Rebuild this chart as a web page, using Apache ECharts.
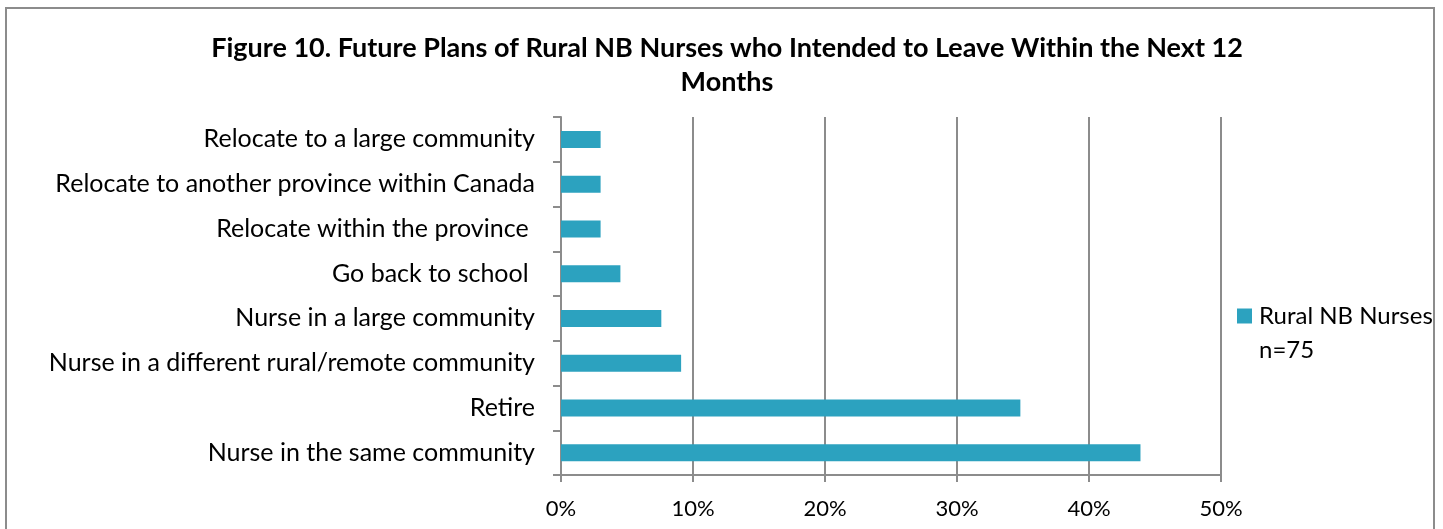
<!DOCTYPE html>
<html lang="en">
	<head>
		<meta charset="UTF-8">
		<title>Future Plans of Rural NB Nurses</title>
		<script src="https://cdn.jsdelivr.net/npm/echarts@6/dist/echarts.min.js"></script>
		<style>
			html, body {
				margin: 0;
				padding: 0;
				background: #fff;
			}
			#frame {
				position: absolute;
				left: 5px;
				top: 7px;
				width: 1430px;
				height: 560px;
				border: 2px solid #8c8c8c;
				box-sizing: border-box;
			}
			#main {
				position: absolute;
				left: 0;
				top: 0;
				width: 1443px;
				height: 529px;
			}
		</style>
	</head>

	<body>
		<div id="frame"></div>
		<div id="main"></div>
	</body>

	<script>
		// top to bottom, as shown
		let categories = [
			"Relocate to a large community",
			"Relocate to another province within Canada",
			"Relocate within the province ",
			"Go back to school ",
			"Nurse in a large community",
			"Nurse in a different rural/remote community",
			"Retire",
			"Nurse in the same community"
		];
		let values = [3.0, 3.0, 3.0, 4.5, 7.6, 9.1, 34.8, 43.9];
		let seriesName = "Rural NB Nurses";
		let sampleNote = "n=75";
		let xTicks = [0, 10, 20, 30, 40, 50];

		let font = "Lato, 'Open Sans', sans-serif";

		let option = {
			animation: false,
			title: {
				text: "Figure 10. Future Plans of Rural NB Nurses who Intended to Leave Within the Next 12\nMonths",
				left: 722,
				top: 26,
				textAlign: "center",
				textStyle: {
					fontFamily: font,
					fontSize: 27,
					fontWeight: "bold",
					color: "#000",
					lineHeight: 34
				}
			},
			legend: {
				left: 1237,
				top: 304,
				padding: 0,
				itemWidth: 15,
				itemHeight: 15,
				icon: "rect",
				textStyle: {
					fontFamily: font,
					fontSize: 24,
					color: "#000",
					padding: [0, 0, 0, 2]
				},
				data: [seriesName]
			},
			graphic: [{
				type: "text",
				left: 1259,
				top: 338,
				style: {
					text: sampleNote,
					fontFamily: font,
					fontSize: 24,
					fill: "#000"
				}
			}],
			grid: {
				left: 561,
				right: 222,
				top: 117,
				bottom: 54,
				containLabel: false
			},
			xAxis: {
				type: "value",
				min: xTicks[0],
				max: xTicks[xTicks.length - 1],
				interval: 10,
				axisLine: {
					show: true,
					lineStyle: { color: "#8c8c8c", width: 2 }
				},
				axisTick: {
					show: true,
					length: 7,
					lineStyle: { color: "#8c8c8c", width: 2 }
				},
				axisLabel: {
					formatter: "{value}%",
					margin: 23,
					fontFamily: font,
					fontSize: 22,
					color: "#000"
				},
				splitLine: {
					show: true,
					lineStyle: { color: "#8c8c8c", width: 2 }
				}
			},
			yAxis: {
				type: "category",
				inverse: true,
				data: categories,
				axisLine: {
					show: true,
					lineStyle: { color: "#8c8c8c", width: 2 }
				},
				axisTick: {
					show: true,
					length: 8,
					lineStyle: { color: "#8c8c8c", width: 2 }
				},
				axisLabel: {
					margin: 26,
					fontFamily: font,
					fontSize: 25,
					color: "#000"
				}
			},
			series: [{
				name: seriesName,
				type: "bar",
				data: values,
				barWidth: 17,
				itemStyle: {
					color: "#2ca2bf"
				}
			}]
		};

		let chart = echarts.init(document.getElementById("main"));
		chart.setOption(option);
	</script>
</html>
